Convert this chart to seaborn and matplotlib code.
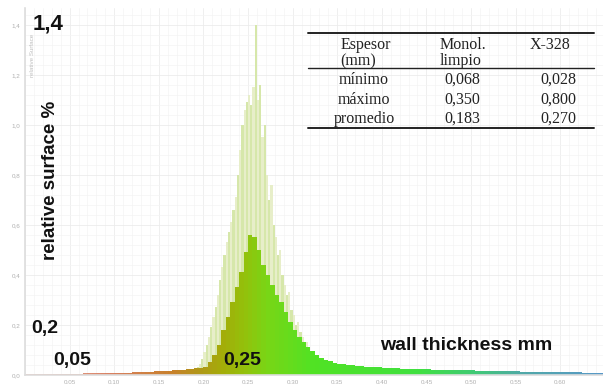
import numpy as np
import pandas as pd
import seaborn as sns
import matplotlib.pyplot as plt
from matplotlib.colors import LinearSegmentedColormap
from matplotlib.ticker import MultipleLocator, FuncFormatter
from matplotlib.lines import Line2D

# X-328 (con gradiente de color), bins de 0,005 mm desde 0,0 hasta 0,65
dark_width = 0.005
dark_h = [
    0.003, 0.003, 0.003, 0.003, 0.003, 0.003, 0.003, 0.003, 0.004, 0.004,
    0.005, 0.005, 0.005, 0.006, 0.006, 0.006, 0.007, 0.007, 0.007, 0.008,
    0.008, 0.008, 0.009, 0.009, 0.010, 0.010, 0.011, 0.012, 0.013, 0.014,
    0.015, 0.016, 0.017, 0.018, 0.019, 0.020, 0.022, 0.024, 0.026, 0.028,
    0.030, 0.050, 0.080, 0.120, 0.180, 0.230, 0.290, 0.350, 0.410, 0.490,
    0.560, 0.550, 0.500, 0.440, 0.400, 0.360, 0.320, 0.290, 0.250, 0.210,
    0.180, 0.150, 0.130, 0.110, 0.095, 0.080, 0.068, 0.060, 0.054, 0.049,
    0.045, 0.042, 0.040, 0.038, 0.036, 0.034, 0.033, 0.032, 0.031, 0.030,
    0.029, 0.028, 0.027, 0.026, 0.025, 0.025, 0.024, 0.023, 0.023, 0.022,
    0.022, 0.021, 0.021, 0.020, 0.020, 0.019, 0.019, 0.019, 0.018, 0.018,
    0.018, 0.017, 0.017, 0.016, 0.016, 0.015, 0.015, 0.015, 0.014, 0.014,
    0.014, 0.013, 0.013, 0.013, 0.012, 0.012, 0.012, 0.011, 0.011, 0.011,
    0.011, 0.010, 0.010, 0.010, 0.010, 0.009, 0.009, 0.009, 0.009, 0.009,
]

# Monolito limpio (claro), bins de 0,0025 mm desde 0,18 hasta 0,35
light_start = 0.18
light_width = 0.0025
light_h = [
    0.005, 0.008, 0.010, 0.015,
    0.02, 0.03, 0.045, 0.065,
    0.09, 0.12, 0.15, 0.19,
    0.23, 0.27, 0.32, 0.38,
    0.43, 0.48, 0.53, 0.57,
    0.61, 0.66, 0.71, 0.80,
    0.90, 1.00, 1.06, 1.09,
    1.12, 1.08, 1.15, 1.40,
    1.10, 1.16, 0.95, 1.00,
    0.80, 0.70, 0.76, 0.60,
    0.55, 0.48, 0.50, 0.40,
    0.36, 0.32, 0.33, 0.26,
    0.24, 0.20, 0.21, 0.17,
    0.15, 0.12, 0.13, 0.10,
    0.09, 0.07, 0.07, 0.05,
    0.045, 0.035, 0.03, 0.025,
    0.02, 0.015, 0.01, 0.008,
]

table_header = [["Espesor", "(mm)"], ["Monol.", "limpio"], ["X-328", ""]]
table_rows = [
    ["mínimo", "0,068", "0,028"],
    ["máximo", "0,350", "0,800"],
    ["promedio", "0,183", "0,270"],
]

dark_edges = np.round(np.arange(len(dark_h) + 1) * dark_width, 4)
light_edges = np.round(light_start + np.arange(len(light_h) + 1) * light_width, 5)
dark_df = pd.DataFrame({"thickness": dark_edges[:-1] + dark_width / 2, "surface": dark_h})
light_df = pd.DataFrame({"thickness": light_edges[:-1] + light_width / 2, "surface": light_h})

sns.set_theme(style="white")
plt.rcParams["font.family"] = ["Liberation Sans", "DejaVu Sans"]

fig = plt.figure(figsize=(6.03, 3.86), dpi=100)
ax = fig.add_axes([0.0415, 0.0285, 0.9585, 0.951])

# serie clara (detrás)
sns.histplot(data=light_df, x="thickness", weights="surface", bins=light_edges.tolist(),
             ax=ax, stat="count", element="bars", linewidth=0, color="#e0eab8")
n_light = len(ax.patches)
for i, p in enumerate(ax.patches[:n_light]):
    p.set_facecolor("#e7eec9" if i % 2 == 0 else "#d6e7aa")
    p.set_alpha(1)

# serie con gradiente (delante)
sns.histplot(data=dark_df, x="thickness", weights="surface", bins=dark_edges.tolist(),
             ax=ax, stat="count", element="bars", linewidth=0, color="#80cc20")
cmap = LinearSegmentedColormap.from_list("grad", [
    (0.00, "#eab4a8"), (0.15, "#d88060"), (0.25, "#c8802c"),
    (0.30, "#b09818"), (0.34, "#a4ac08"), (0.38, "#92c20c"),
    (0.42, "#78d616"), (0.50, "#50e224"), (0.68, "#40e040"),
    (0.78, "#40c878"), (0.86, "#50a8a8"), (1.00, "#5898c8"),
])
for p in ax.patches[n_light:]:
    xc = p.get_x() + p.get_width() / 2
    p.set_facecolor(cmap(xc / 0.65))
    p.set_alpha(1)

ax.set_xlim(0, 0.648)
ax.set_ylim(0, 1.468)
ax.xaxis.set_major_locator(MultipleLocator(0.05))
ax.xaxis.set_minor_locator(MultipleLocator(0.01))
ax.yaxis.set_major_locator(MultipleLocator(0.2))
ax.yaxis.set_minor_locator(MultipleLocator(0.04))
ax.xaxis.set_major_formatter(FuncFormatter(lambda v, _: "" if v < 0.01 else f"{v:.2f}"))
ax.yaxis.set_major_formatter(FuncFormatter(lambda v, _: f"{v:.1f}".replace(".", ",")))
ax.tick_params(axis="both", labelsize=4.5, labelcolor="#b0b0b0", length=2,
               color="#cccccc", pad=1.5)
ax.grid(which="major", color="#ececec", linewidth=0.6)
ax.grid(which="minor", color="#f4f4f4", linewidth=0.5)
ax.set_axisbelow(True)
ax.set_xlabel("")
ax.set_ylabel("")
for s in ["top", "right"]:
    ax.spines[s].set_visible(False)
for s in ["left", "bottom"]:
    ax.spines[s].set_color("#dddddd")
    ax.spines[s].set_linewidth(1.2)

W, H = 603, 386


def fx(px):
    return px / W


def fy(py):
    return 1 - py / H


# etiquetas grandes
fig.text(fx(33), fy(24), "1,4", fontsize=16, fontweight="bold", color="#111111", va="center")
fig.text(fx(31), fy(329), "0,2", fontsize=14, fontweight="bold", color="#111111", va="center")
fig.text(fx(53), fy(361), "0,05", fontsize=14, fontweight="bold", color="#111111", va="center")
fig.text(fx(223), fy(361), "0,25", fontsize=14, fontweight="bold", color="#111111", va="center")
fig.text(fx(380), fy(345), "wall thickness mm", fontsize=14, fontweight="bold",
         color="#111111", va="center")
fig.text(fx(51), fy(180), "relative surface %", fontsize=13.5, fontweight="bold",
         color="#111111", rotation=90, ha="center", va="center")
fig.text(fx(32), fy(55), "relative Surface", fontsize=4.5, color="#c0c0c0",
         rotation=90, ha="center", va="center")

# tabla
serif = ["Liberation Serif", "DejaVu Serif"]
for y in (33, 128):
    fig.add_artist(Line2D([fx(308), fx(594)], [fy(y), fy(y)], color="#222222", lw=1.4))
fig.add_artist(Line2D([fx(308), fx(594)], [fy(68), fy(68)], color="#222222", lw=1.0))
head_x = [(341, 340), (440, 440), (530, 530)]
for (l1, l2), (hx1, hx2) in zip(table_header, head_x):
    fig.text(fx(hx1), fy(45), l1, fontsize=11.5, family=serif, color="#222222", va="center")
    fig.text(fx(hx2), fy(61), l2, fontsize=11.5, family=serif, color="#222222", va="center")
col_x = [364, 462, 558]
row_y = [80, 100, 119]
for row, ry in zip(table_rows, row_y):
    for val, cx in zip(row, col_x):
        fig.text(fx(cx), fy(ry), val, fontsize=11.5, family=serif, color="#222222",
                 ha="center", va="center")

fig.savefig("out.png", dpi=100)
